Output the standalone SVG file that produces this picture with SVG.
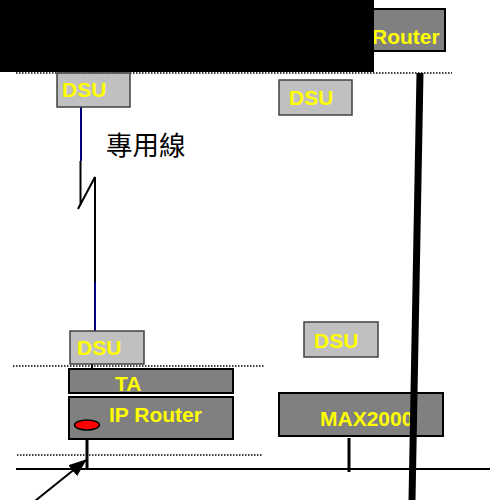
<svg xmlns="http://www.w3.org/2000/svg" width="490" height="500" viewBox="0 0 490 500">
<style>
.lbl{font-family:"Liberation Sans",Arial,sans-serif;font-weight:bold;fill:#ffff00;font-size:21px}
.dsu{fill:#c0c0c0;stroke:#404040;stroke-width:1.5}
.dev{fill:#808080;stroke:#000;stroke-width:2}
.dot{stroke:#000;stroke-width:1.5;stroke-dasharray:1.5 1.5;fill:none}
</style>
<defs>
<marker id="ah2" markerWidth="18" markerHeight="14" refX="17" refY="7" orient="auto" markerUnits="userSpaceOnUse" viewBox="0 0 18 14">
<path d="M0,0 L18,7 L0,14 Z" fill="#000"/>
</marker>
</defs>
<rect width="490" height="500" fill="#fff"/>

<g id="router-top">
<rect class="dev" x="280" y="9" width="165" height="42"/>
<text class="lbl" x="372" y="44" font-size="19.5">Router</text>
</g>
<rect id="cover" x="0" y="0" width="374" height="72" fill="#000"/>

<g id="separators">
<line class="dot" x1="16" y1="73" x2="452" y2="73"/>
<line class="dot" x1="13" y1="366" x2="265" y2="366"/>
<line class="dot" x1="17" y1="455" x2="263" y2="455"/>
</g>

<g id="connectors">
<line x1="81" y1="107" x2="81" y2="161" stroke="#000080" stroke-width="2"/>
<polyline points="80.5,161 80.5,204 78,209 95,177 95,282" fill="none" stroke="#000" stroke-width="2"/>
<line x1="95" y1="282" x2="95" y2="331" stroke="#000080" stroke-width="2"/>
<line x1="92" y1="364" x2="92" y2="369" stroke="#000" stroke-width="2"/>
<line x1="87" y1="439" x2="87" y2="469" stroke="#000" stroke-width="3"/>
<line x1="16" y1="469" x2="490" y2="469" stroke="#000" stroke-width="2"/>
<line x1="349" y1="438" x2="349" y2="472" stroke="#000" stroke-width="3"/>
<line x1="30" y1="505" x2="86" y2="460" stroke="#000" stroke-width="2" marker-end="url(#ah2)"/>
</g>

<g id="dsu-top-left">
<rect class="dsu" x="57" y="73" width="73" height="34"/>
<text class="lbl" x="62" y="97">DSU</text>
</g>
<g id="dsu-top-right">
<rect class="dsu" x="279" y="80" width="73" height="35"/>
<text class="lbl" x="289" y="105">DSU</text>
</g>
<text id="leased-line" x="106" y="155" font-family="'Noto Sans CJK TC','Noto Sans CJK SC',sans-serif" font-size="26.5" fill="#000">專用線</text>

<g id="dsu-bottom-left">
<rect class="dsu" x="70" y="331" width="74" height="33"/>
<text class="lbl" x="77" y="355">DSU</text>
</g>
<g id="ta">
<rect class="dev" x="69" y="369" width="164" height="24"/>
<text class="lbl" x="115" y="391">TA</text>
</g>
<g id="ip-router">
<rect class="dev" x="69" y="397" width="164" height="42"/>
<text class="lbl" x="109" y="422">IP Router</text>
<ellipse cx="87" cy="425" rx="12.5" ry="5" fill="#ff0000" stroke="#000" stroke-width="1.5"/>
</g>
<g id="dsu-right">
<rect class="dsu" x="304" y="322" width="74" height="35"/>
<text class="lbl" x="314" y="348">DSU</text>
</g>
<g id="max2000">
<rect class="dev" x="279" y="393" width="164" height="43"/>
<text class="lbl" x="320" y="426" font-size="23.5">MAX2000</text>
</g>
<line id="trunk" x1="420" y1="73" x2="412" y2="500" stroke="#000" stroke-width="7"/>
</svg>
